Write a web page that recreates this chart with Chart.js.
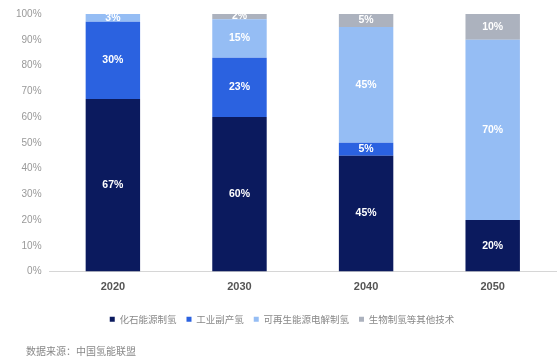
<!DOCTYPE html>
<html>
<head>
<meta charset="utf-8">
<script src="https://cdn.jsdelivr.net/npm/chart.js@4"></script>
<style>
  body { margin: 0; background: #fff; }
  #wrap { position: relative; width: 560px; height: 361px; }
  #source {
    position: absolute; left: 26px; top: 343px;
    font: 10px "Noto Sans CJK SC", sans-serif; color: #888;
  }
</style>
</head>
<body>
<div id="wrap">
  <canvas id="hydrogenChart" width="560" height="361"></canvas>
  <div id="source">数据来源：中国氢能联盟</div>
</div>
<script>
const years = ["2020", "2030", "2040", "2050"];
const fossil = [67, 60, 45, 20];
const byproduct = [30, 23, 5, 0];
const renewable = [3, 15, 45, 70];
const otherTech = [0, 2, 5, 10];
const seriesNames = ["化石能源制氢", "工业副产氢", "可再生能源电解制氢", "生物制氢等其他技术"];
const yTicks = ["0%", "10%", "20%", "30%", "40%", "50%", "60%", "70%", "80%", "90%", "100%"];

const colors = ["#0b1a5e", "#2b62e0", "#95bdf4", "#acb2be"];

// white percentage labels in the middle of each segment
const segmentLabels = {
  id: "segmentLabels",
  afterDatasetsDraw(chart) {
    const ctx = chart.ctx;
    ctx.save();
    ctx.font = "bold 10.5px 'Liberation Sans', sans-serif";
    ctx.fillStyle = "#ffffff";
    ctx.textAlign = "center";
    ctx.textBaseline = "middle";
    chart.data.datasets.forEach((ds, i) => {
      const meta = chart.getDatasetMeta(i);
      meta.data.forEach((bar, j) => {
        const v = ds.data[j];
        if (!v) return;
        ctx.fillText(v + "%", bar.x, (bar.y + bar.base) / 2);
      });
    });
    ctx.restore();
  }
};

const ctx = document.getElementById("hydrogenChart").getContext("2d");
const dataSets = [fossil, byproduct, renewable, otherTech];

new Chart(ctx, {
  type: "bar",
  data: {
    labels: years,
    datasets: dataSets.map((d, i) => ({
      label: seriesNames[i],
      data: d,
      backgroundColor: colors[i],
      barPercentage: 0.86,
      categoryPercentage: 0.5
    }))
  },
  options: {
    responsive: false,
    animation: false,
    layout: { padding: { left: 8, right: 4, top: 9, bottom: 27 } },
    plugins: {
      legend: {
        position: "bottom",
        labels: {
          boxWidth: 5,
          boxHeight: 5,
          padding: 10,
          color: "#888",
          font: { size: 9.5, family: "'Noto Sans CJK SC', sans-serif" }
        }
      },
      tooltip: { enabled: false }
    },
    scales: {
      x: {
        stacked: true,
        grid: { display: false },
        border: { display: true, color: "#d6d6d6" },
        ticks: { color: "#555", font: { size: 11, weight: "bold", family: "'Liberation Sans', sans-serif" }, padding: 1 },
        afterFit: (scale) => { scale.height = 33; }
      },
      y: {
        stacked: true,
        min: 0,
        max: 100,
        grid: { display: false, drawTicks: false },
        border: { display: false },
        ticks: {
          stepSize: 10,
          color: "#999",
          padding: 8,
          font: { size: 10, family: "'Liberation Sans', sans-serif" },
          callback: (v) => yTicks[v / 10]
        }
      }
    }
  },
  plugins: [segmentLabels]
});
</script>
</body>
</html>
